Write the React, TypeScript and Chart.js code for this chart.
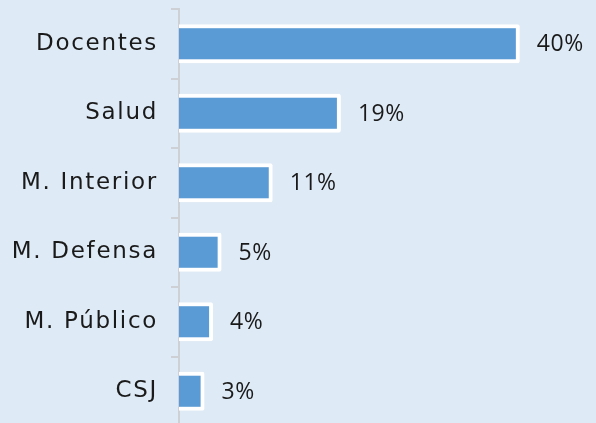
import React, { useEffect, useRef } from "react";
import { Chart, registerables } from "chart.js";

Chart.register(...registerables);

const categories = ["Docentes", "Salud", "M. Interior", "M. Defensa", "M. Público", "CSJ"];
const values = [40, 19, 11, 5, 4, 3];
const valueLabels = ["40%", "19%", "11%", "5%", "4%", "3%"];

const FONT = "'DejaVu Sans', sans-serif";
const VALUE_FONT = "'Open Sans', sans-serif";
const BG = "#deeaf6";
const AXIS = "#cdd0d4";

const valueLabelPlugin = {
  id: "valueLabels",
  afterDatasetsDraw(chart: any) {
    const ctx = chart.ctx;
    const meta = chart.getDatasetMeta(0);
    ctx.save();
    ctx.letterSpacing = "0.5px";
    ctx.font = `23px ${VALUE_FONT}`;
    ctx.fillStyle = "#1a1a1a";
    ctx.textAlign = "left";
    ctx.textBaseline = "middle";
    meta.data.forEach((bar: any, i: number) => {
      ctx.fillText(valueLabels[i], bar.x + 17, bar.y + 1);
    });
    ctx.restore();
  },
};

const bgPlugin = {
  id: "bg",
  beforeDraw(chart: any) {
    const ctx = chart.ctx;
    ctx.save();
    ctx.fillStyle = BG;
    ctx.fillRect(0, 0, chart.width, chart.height);
    ctx.restore();
    ctx.letterSpacing = "1.7px";
  },
};

export default function App() {
  const ref = useRef<HTMLCanvasElement>(null);
  useEffect(() => {
    document.body.style.margin = "0";
    document.body.style.overflow = "hidden";
    document.body.style.background = BG;
    const chart = new Chart(ref.current!, {
      type: "bar",
      data: {
        labels: categories,
        datasets: [
          {
            data: values,
            backgroundColor: "#5b9bd5",
            borderColor: "#ffffff",
            borderWidth: 4,
            borderSkipped: "start",
            borderRadius: 2,
            barPercentage: 0.56,
            categoryPercentage: 1,
          },
        ],
      },
      options: {
        indexAxis: "y",
        responsive: false,
        animation: false,
        layout: { padding: { top: 9, right: 8, bottom: 0, left: 0 } },
        plugins: { legend: { display: false }, tooltip: { enabled: false } },
        scales: {
          x: { display: false, min: 0, max: 48 },
          y: {
            offset: true,
            afterFit(scale: any) {
              scale.width = 179;
              scale.paddingTop = 0;
              scale.paddingBottom = 0;
            },
            grid: {
              display: true,
              drawOnChartArea: false,
              drawTicks: true,
              tickLength: 8,
              color: AXIS,
              lineWidth: 2,
              offset: true,
            },
            border: { display: true, color: AXIS, width: 2 },
            ticks: {
              padding: 13,
              color: "#1a1a1a",
              font: { family: FONT, size: 23 },
            },
          },
        },
      },
      plugins: [bgPlugin, valueLabelPlugin],
    });
    return () => chart.destroy();
  }, []);
  return (
    <div style={{ width: 596, height: 426, overflow: "hidden" }}>
      <canvas ref={ref} width={596} height={426} style={{ display: "block" }} />
    </div>
  );
}
